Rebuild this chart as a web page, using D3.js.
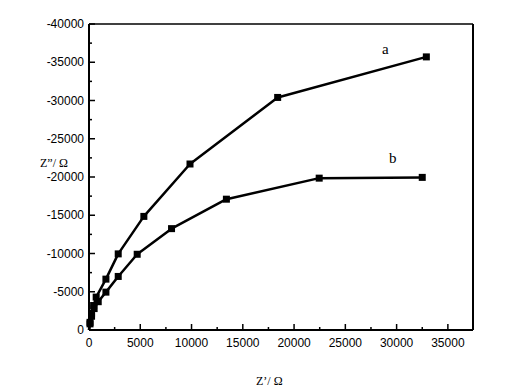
<!DOCTYPE html>
<html lang="en">
<head>
<meta charset="utf-8">
<title>Nyquist plot</title>
<script src="https://cdnjs.cloudflare.com/ajax/libs/d3/7.8.5/d3.min.js"></script>
<style>
  body { margin: 0; background: #fff; }
  .tick-label { font-family: "Liberation Sans", Arial, sans-serif; font-size: 12px; fill: #000; }
  .serif { font-family: "Liberation Serif", "Times New Roman", serif; fill: #000; }
</style>
</head>
<body>
<svg id="chart" width="509" height="388"></svg>
<script>
// Z' (real part) and Z'' (imaginary part), ohm
var zReA = [0, 100, 250, 450, 700, 1650, 2850, 5350, 9850, 18400, 32900];
var zImA = [0, -1000, -2200, -3200, -4300, -6650, -9950, -14850, -21700, -30400, -35700];
var zReB = [0, 100, 250, 500, 900, 1650, 2850, 4700, 8050, 13400, 22450, 32500];
var zImB = [0, -800, -1800, -2800, -3700, -4950, -7000, -9900, -13250, -17100, -19850, -19950];
var xTicks = [0, 5000, 10000, 15000, 20000, 25000, 30000, 35000];
var yTicks = [0, -5000, -10000, -15000, -20000, -25000, -30000, -35000, -40000];

var svg = d3.select("#chart");
var pLeft = 89, pTop = 24, pRight = 473, pBottom = 330;

var x = d3.scaleLinear().domain([0, 37450]).range([pLeft, pRight]);
var y = d3.scaleLinear().domain([0, -40000]).range([pBottom, pTop]);

// frame
svg.append("line").attr("x1", pLeft).attr("x2", pRight).attr("y1", pTop).attr("y2", pTop)
  .attr("stroke", "#000").attr("stroke-width", 1.5);
svg.append("line").attr("x1", pRight).attr("x2", pRight).attr("y1", pTop).attr("y2", pBottom)
  .attr("stroke", "#000").attr("stroke-width", 2);

// axes, ticks inward
var xMinor = d3.range(2500, 37500, 5000);
var yMinor = d3.range(-2500, -40000, -5000);

svg.append("g").selectAll("line").data(xTicks).join("line")
  .attr("x1", d => x(d)).attr("x2", d => x(d))
  .attr("y1", pBottom).attr("y2", pBottom - 6)
  .attr("stroke", "#000").attr("stroke-width", 1.5);
svg.append("g").selectAll("line").data(xMinor).join("line")
  .attr("x1", d => x(d)).attr("x2", d => x(d))
  .attr("y1", pBottom).attr("y2", pBottom - 3)
  .attr("stroke", "#000").attr("stroke-width", 1.5);
svg.append("g").selectAll("line").data(yTicks).join("line")
  .attr("x1", pLeft).attr("x2", pLeft + 6)
  .attr("y1", d => y(d)).attr("y2", d => y(d))
  .attr("stroke", "#000").attr("stroke-width", 1.5);
svg.append("g").selectAll("line").data(yMinor).join("line")
  .attr("x1", pLeft).attr("x2", pLeft + 3)
  .attr("y1", d => y(d)).attr("y2", d => y(d))
  .attr("stroke", "#000").attr("stroke-width", 1.5);

svg.append("line").attr("x1", pLeft).attr("x2", pRight).attr("y1", pBottom).attr("y2", pBottom)
  .attr("stroke", "#000").attr("stroke-width", 2);
svg.append("line").attr("x1", pLeft).attr("x2", pLeft).attr("y1", pTop).attr("y2", pBottom)
  .attr("stroke", "#000").attr("stroke-width", 2);

svg.append("g").selectAll("text").data(xTicks).join("text")
  .attr("class", "tick-label")
  .attr("x", d => x(d)).attr("y", pBottom + 17)
  .attr("text-anchor", "middle")
  .text(d => d);
svg.append("g").selectAll("text").data(yTicks).join("text")
  .attr("class", "tick-label")
  .attr("x", pLeft - 5).attr("y", d => y(d) + 4)
  .attr("text-anchor", "end")
  .text(d => d);

// axis titles
svg.append("text").attr("class", "serif").attr("font-size", 12)
  .attr("x", 40).attr("y", 167).text("Z\u201D/ \u03A9");
svg.append("text").attr("class", "serif").attr("font-size", 12)
  .attr("x", 256).attr("y", 385).text("Z\u2019/ \u03A9");

// series
function drawSeries(xs, ys) {
  var pts = xs.map((v, i) => [v, ys[i]]);
  svg.append("path").datum(pts)
    .attr("fill", "none").attr("stroke", "#000").attr("stroke-width", 2.5)
    .attr("stroke-linejoin", "round")
    .attr("d", d3.line().x(d => x(d[0])).y(d => y(d[1])));
  svg.append("g").selectAll("rect").data(pts.slice(1)).join("rect")
    .attr("x", d => x(d[0]) - 3.5).attr("y", d => y(d[1]) - 3.5)
    .attr("width", 7).attr("height", 7).attr("fill", "#000");
}
drawSeries(zReA, zImA);
drawSeries(zReB, zImB);

svg.append("text").attr("class", "serif").attr("font-size", 15)
  .attr("x", 382).attr("y", 54).text("a");
svg.append("text").attr("class", "serif").attr("font-size", 15)
  .attr("x", 389).attr("y", 163).text("b");
</script>
</body>
</html>
